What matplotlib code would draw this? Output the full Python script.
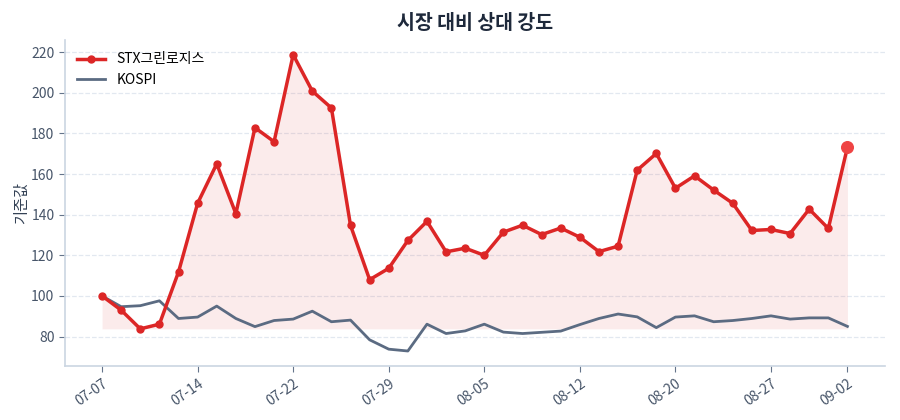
import matplotlib
matplotlib.use('Agg')
import matplotlib.pyplot as plt
import numpy as np

plt.rcParams['font.family'] = ['Noto Sans CJK KR', 'DejaVu Sans']

dates = ['07-07', '07-08', '07-09', '07-10', '07-11', '07-14', '07-15', '07-16', '07-17', '07-18',
         '07-22', '07-23', '07-24', '07-25', '07-28', '07-29', '07-30', '07-31', '08-01', '08-04',
         '08-05', '08-06', '08-07', '08-08', '08-11', '08-12', '08-13', '08-14', '08-18', '08-19',
         '08-20', '08-21', '08-22', '08-25', '08-26', '08-27', '08-28', '08-29', '09-01', '09-02']

stx = [100.0, 93.0, 83.8, 86.1, 111.8, 145.6, 165.0, 140.5, 182.8, 175.9,
       218.7, 200.8, 192.5, 134.7, 108.0, 113.6, 127.3, 136.7, 121.7, 123.5,
       120.0, 131.4, 134.8, 130.2, 133.4, 128.9, 121.8, 124.5, 161.9, 170.1,
       153.0, 159.1, 152.1, 145.6, 132.2, 132.7, 130.7, 142.7, 133.2, 173.2]

kospi = [100.0, 94.7, 95.2, 97.6, 88.9, 89.6, 95.0, 88.9, 84.9, 87.9,
         88.6, 92.5, 87.3, 88.1, 78.4, 73.8, 72.9, 86.1, 81.5, 82.8,
         86.1, 82.2, 81.5, 82.1, 82.7, 85.9, 88.9, 91.1, 89.7, 84.4,
         89.6, 90.2, 87.3, 87.9, 88.9, 90.2, 88.6, 89.2, 89.2, 85.0]

tick_idx = [0, 5, 10, 15, 20, 25, 30, 35, 39]

x = np.arange(len(dates))
stx = np.array(stx)

fig = plt.figure(figsize=(9, 4.2), dpi=100)
ax = fig.add_axes([0.072, 0.129, 0.911, 0.776])

ax.fill_between(x, stx, stx.min(), color='#dc2626', alpha=0.09, linewidth=0)
ax.plot(x, stx, color='#dc2626', lw=2.5, marker='o', ms=5, label='STX그린로지스', zorder=3)
ax.plot(x, kospi, color='#5b6b82', lw=2, label='KOSPI', zorder=2)
ax.scatter([x[-1]], [stx[-1]], s=70, color='#ef4444', zorder=4)

ax.set_xticks(tick_idx)
ax.set_xticklabels([dates[i] for i in tick_idx], rotation=35, ha='right', rotation_mode='anchor')
ax.set_yticks([80, 100, 120, 140, 160, 180, 200, 220])
ax.grid(axis='y', linestyle='--', color='#e2e8f0', lw=0.9)
ax.set_axisbelow(True)

for s in ['top', 'right']:
    ax.spines[s].set_visible(False)
for s in ['left', 'bottom']:
    ax.spines[s].set_color('#cbd5e1')
    ax.spines[s].set_linewidth(1.2)
ax.tick_params(colors='#475569', labelsize=10, length=4)
ax.tick_params(axis='both', color='#64748b')

ax.set_ylabel('기준값', fontsize=11, color='#334155', labelpad=1)
ax.set_title('시장 대비 상대 강도', fontsize=14, fontweight='bold', color='#1e293b', pad=8)

leg = ax.legend(loc='upper left', frameon=False, fontsize=10)

fig.savefig('out.png', dpi=100)
